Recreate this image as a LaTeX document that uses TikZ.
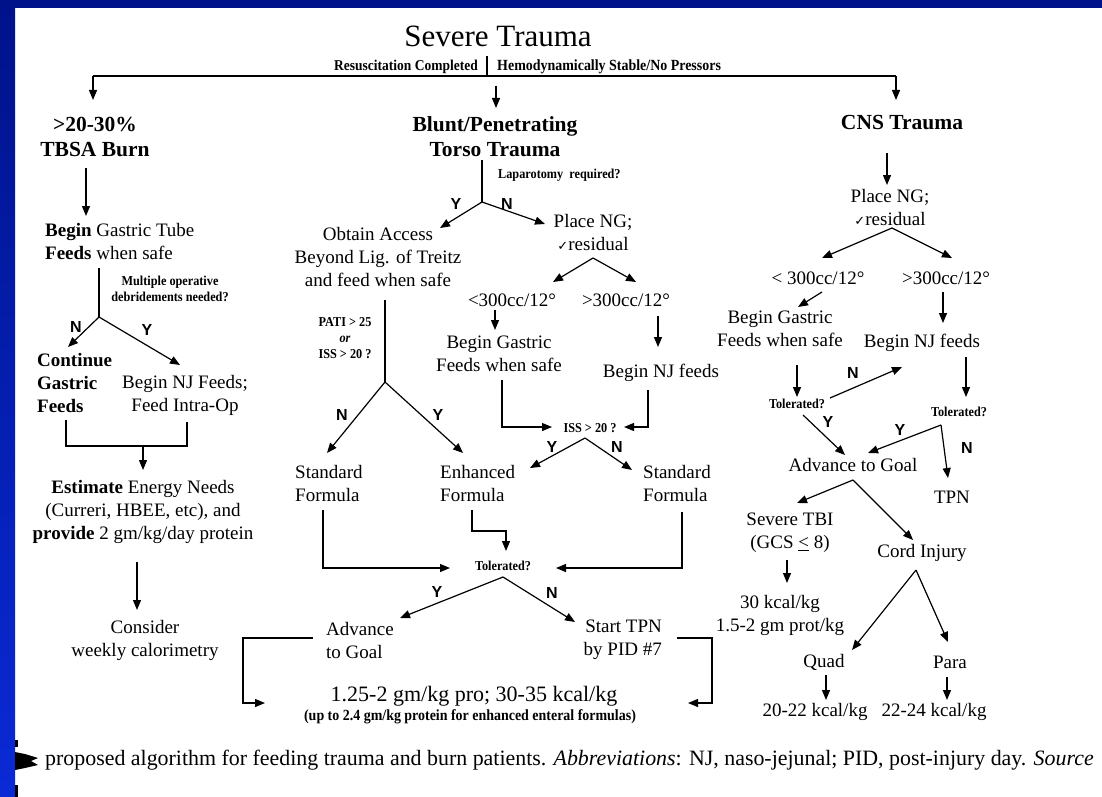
\documentclass[tikz,border=0pt]{standalone}
\usepackage{fontspec}
\setmainfont{Liberation Serif}
\newfontfamily\condf[FakeStretch=0.9]{Liberation Serif}
\newfontfamily\ynf{Liberation Sans}
\newfontfamily\symf{DejaVu Sans}
\usetikzlibrary{arrows.meta}
\definecolor{navy}{RGB}{0,18,138}
\definecolor{bblue}{RGB}{10,42,214}
\newcommand{\chk}{{\symf\fontsize{13}{13}\selectfont ✓}}
\begin{document}
\begin{tikzpicture}[x=1pt,y=-1pt,
  txt/.style={inner sep=0pt,align=center,font=\fontsize{19}{23}\selectfont},
  txl/.style={txt,align=left},
  hdr/.style={inner sep=0pt,align=center,font=\bfseries\fontsize{21.5}{25}\selectfont},
  sml/.style={inner sep=0pt,align=center,font=\condf\bfseries\fontsize{13.6}{16}\selectfont},
  yn/.style={inner sep=0pt,font=\ynf\bfseries\fontsize{16}{16}\selectfont},
  ln/.style={line width=1.2pt},
  arr/.style={ln,-{Triangle[length=10pt,width=8pt]}},
]
\useasboundingbox (0,0) rectangle (1102,797);
\fill[white] (0,0) rectangle (1102,797);
\fill[navy] (0,0) rectangle (1102,8);
\shade[top color=navy,bottom color=bblue] (0,0) rectangle (15,797);
\fill[black] (15,752) -- (25,754) -- (38,758) -- (31,761) -- (38,765) -- (25,768) -- (15,770) -- cycle;
\fill[black] (15,740) rectangle (18,747);
\fill[black] (15,785) rectangle (18,797);

% top
\node[inner sep=0pt,font=\fontsize{31}{31}\selectfont] (title) at (498,36) {Severe Trauma};
\node[sml,anchor=east,font=\condf\bfseries\fontsize{15}{17}\selectfont] (resus) at (478,67) {Resuscitation Completed};
\node[sml,anchor=west,font=\condf\bfseries\fontsize{15.5}{17}\selectfont] (hemo) at (497,67) {Hemodynamically Stable/No Pressors};
\coordinate (tkA) at (487,56); \coordinate (tkB) at (487,76);
\coordinate (hL) at (93,76); \coordinate (hR) at (896,76);
\draw[ln] (tkA) -- (tkB);
\draw[ln] (hL) -- (hR);
\coordinate (aL) at (93,100); \coordinate (aR) at (896,100);
\coordinate (cA) at (496,86); \coordinate (cB) at (496,108);
\draw[arr] (hL) -- (aL);
\draw[arr] (hR) -- (aR);
\draw[arr] (cA) -- (cB);

% heads
\node[hdr] (burn) at (95,137) {>20-30\%\\TBSA Burn};
\node[hdr] (torso) at (495,137) {Blunt/Penetrating\\Torso Trauma};
\node[hdr] (cns) at (902,123) {CNS Trauma};

% burn column
\coordinate (b1) at (86,168); \coordinate (b2) at (86,216);
\draw[arr] (b1) -- (b2);
\node[txl,anchor=west] (gtube) at (45,241) {\textbf{Begin} Gastric Tube\\\textbf{Feeds} when safe};
\coordinate (b3) at (99,268); \coordinate (bf) at (99,317);
\draw[ln] (b3) -- (bf);
\node[sml] (multi) at (170,289) {Multiple operative\\debridements needed?};
\coordinate (bN) at (68,347); \coordinate (bY) at (180,365);
\draw[arr] (bf) -- (bN);
\draw[arr] (bf) -- (bY);
\node[yn] (bNl) at (76,327) {N};
\node[yn] (bYl) at (147,330) {Y};
\node[txl,anchor=west] (cont) at (37,383) {\textbf{Continue}\\\textbf{Gastric}\\\textbf{Feeds}};
\node[txt] (njb) at (185,395) {Begin NJ Feeds;\\Feed Intra-Op};
\coordinate (k1) at (66,420); \coordinate (k2) at (66,446);
\coordinate (k3) at (187,446); \coordinate (k4) at (187,422);
\draw[ln] (k1) -- (k2) -- (k3) -- (k4);
\coordinate (k5) at (143,446); \coordinate (k6) at (143,470);
\draw[arr] (k5) -- (k6);
\node[txt] (est) at (143,512) {\textbf{Estimate} Energy Needs\\(Curreri, HBEE, etc), and\\\textbf{provide} 2 gm/kg/day protein};
\coordinate (e1) at (137,562); \coordinate (e2) at (137,610);
\draw[arr] (e1) -- (e2);
\node[txt] (cons) at (145,640) {Consider\\weekly calorimetry};

% torso column
\coordinate (t1) at (482,160); \coordinate (tf) at (482,202);
\draw[ln] (t1) -- (tf);
\node[sml,anchor=west] (lap) at (498,175) {Laparotomy\ \ required?};
\coordinate (tY) at (440,228); \coordinate (tN) at (545,224);
\draw[arr] (tf) -- (tY);
\draw[arr] (tf) -- (tN);
\node[yn] (tYl) at (456,204) {Y};
\node[yn] (tNl) at (507,204) {N};
\node[txt] (obt) at (378,257) {Obtain Access\\Beyond Lig. of Treitz\\and feed when safe};
\node[txt] (png) at (593,232) {Place NG;\\\chk residual};
\coordinate (pf) at (593,258); \coordinate (pL) at (553,282); \coordinate (pR) at (636,282);
\draw[arr] (pf) -- (pL);
\draw[arr] (pf) -- (pR);
\node[txt] (lt300) at (512,300) {<300cc/12°};
\node[txt] (gt300) at (626,300) {>300cc/12°};
\coordinate (l1) at (495,310); \coordinate (l2) at (495,330);
\draw[arr] (l1) -- (l2);
\node[txt] (bgf) at (499,354) {Begin Gastric\\Feeds when safe};
\coordinate (g1) at (658,316); \coordinate (g2) at (658,347);
\draw[arr] (g1) -- (g2);
\node[txt] (bnj) at (661,373) {Begin NJ\ feeds};
\coordinate (m1) at (502,380); \coordinate (m2) at (502,427); \coordinate (m3) at (552,427);
\draw[arr] (m1) -- (m2) -- (m3);
\node[sml] (iss) at (590,428) {ISS > 20 ?};
\coordinate (n1) at (648,390); \coordinate (n2) at (648,427); \coordinate (n3) at (624,427);
\draw[arr] (n1) -- (n2) -- (n3);
\coordinate (if) at (585,438); \coordinate (iY) at (530,468); \coordinate (iN) at (632,470);
\draw[arr] (if) -- (iY);
\draw[arr] (if) -- (iN);
\node[yn] (iYl) at (552,447) {Y};
\node[yn] (iNl) at (617,447) {N};
\node[sml] (pati) at (345,338) {PATI > 25\\\textit{or}\\ISS > 20 ?};
\coordinate (o1) at (385,300); \coordinate (of) at (385,382);
\draw[ln] (o1) -- (of);
\coordinate (oN) at (327,453); \coordinate (oY) at (463,453);
\draw[arr] (of) -- (oN);
\draw[arr] (of) -- (oY);
\node[yn] (oNl) at (342,415) {N};
\node[yn] (oYl) at (438,415) {Y};
\node[txl,anchor=west] (std1) at (295,483) {Standard\\Formula};
\node[txl,anchor=west] (enh) at (440,483) {Enhanced\\Formula};
\node[txl,anchor=west] (std2) at (643,483) {Standard\\Formula};
\coordinate (s1) at (323,510); \coordinate (s2) at (323,568); \coordinate (s3) at (450,568);
\draw[arr] (s1) -- (s2) -- (s3);
\node[sml] (tol) at (503,566) {Tolerated?};
\coordinate (en1) at (472,510); \coordinate (en2) at (472,531);
\coordinate (en3) at (506,531); \coordinate (en4) at (506,551);
\draw[arr] (en1) -- (en2) -- (en3) -- (en4);
\coordinate (r1) at (682,512); \coordinate (r2) at (682,568); \coordinate (r3) at (556,568);
\draw[arr] (r1) -- (r2) -- (r3);
\coordinate (tf2) at (503,577); \coordinate (tY2) at (400,618); \coordinate (tN2) at (575,622);
\draw[arr] (tf2) -- (tY2);
\draw[arr] (tf2) -- (tN2);
\node[yn] (tY2l) at (437,592) {Y};
\node[yn] (tN2l) at (552,593) {N};
\node[txl,anchor=west] (adv) at (326,640) {Advance\\to Goal};
\node[txt,align=right,anchor=east] (tpn) at (662,640) {Start TPN\\by PID \#7};
\coordinate (q1) at (313,638); \coordinate (q2) at (243,638);
\coordinate (q3) at (243,703); \coordinate (q4) at (265,703);
\draw[arr] (q1) -- (q2) -- (q3) -- (q4);
\coordinate (w1) at (677,638); \coordinate (w2) at (712,638);
\coordinate (w3) at (712,703); \coordinate (w4) at (688,703);
\draw[arr] (w1) -- (w2) -- (w3) -- (w4);
\node[inner sep=0pt,font=\fontsize{22}{24}\selectfont] (goal) at (474,696) {1.25-2 gm/kg pro; 30-35 kcal/kg};
\node[sml,font=\condf\bfseries\fontsize{15.5}{17}\selectfont] (upto) at (470,717) {(up to 2.4 gm/kg protein for enhanced enteral formulas)};

% CNS column
\coordinate (c1) at (887,153); \coordinate (c2) at (887,185);
\draw[arr] (c1) -- (c2);
\node[txt] (png2) at (890,207) {Place NG;\\\chk residual};
\coordinate (cf) at (892,228); \coordinate (cL) at (822,258); \coordinate (cR) at (952,258);
\draw[arr] (cf) -- (cL);
\draw[arr] (cf) -- (cR);
\node[txt] (lt2) at (818,278) {< 300cc/12°};
\node[txt] (gt2) at (946,278) {>300cc/12°};
\coordinate (d1) at (822,292); \coordinate (d2) at (798,307);
\draw[arr] (d1) -- (d2);
\coordinate (d3) at (943,292); \coordinate (d4) at (943,323);
\draw[arr] (d3) -- (d4);
\node[txt] (bgf2) at (780,329) {Begin Gastric\\Feeds when safe};
\node[txt] (bnj2) at (922,343) {Begin NJ\ feeds};
\coordinate (e3) at (797,365); \coordinate (e4) at (797,397);
\draw[arr] (e3) -- (e4);
\node[sml] (tolA) at (797,404) {Tolerated?};
\coordinate (x1) at (830,398); \coordinate (x2) at (902,367);
\draw[arr] (x1) -- (x2);
\node[yn] (xNl) at (853,373) {N};
\coordinate (x3) at (803,415); \coordinate (x4) at (845,455);
\draw[arr] (x3) -- (x4);
\node[yn] (xYl) at (828,422) {Y};
\coordinate (e5) at (966,357); \coordinate (e6) at (966,397);
\draw[arr] (e5) -- (e6);
\node[sml] (tolB) at (959,412) {Tolerated?};
\coordinate (yf) at (941,425); \coordinate (yY) at (868,453); \coordinate (yN) at (948,478);
\draw[arr] (yf) -- (yY);
\draw[arr] (yf) -- (yN);
\node[yn] (yYl) at (900,430) {Y};
\node[yn] (yNl) at (967,448) {N};
\node[txt] (adv2) at (853,465) {Advance to Goal};
\node[txt] (tpn2) at (952,497) {TPN};
\coordinate (af) at (853,480); \coordinate (aS) at (797,503); \coordinate (aC) at (913,540);
\draw[arr] (af) -- (aS);
\draw[arr] (af) -- (aC);
\node[txt] (tbi) at (790,533) {Severe TBI\\(GCS \underline{<} 8)};
\node[txt] (cord) at (922,553) {Cord Injury};
\coordinate (f1) at (787,560); \coordinate (f2) at (787,583);
\draw[arr] (f1) -- (f2);
\node[txt] (kc30) at (780,615) {30 kcal/kg\\1.5-2 gm prot/kg};
\coordinate (cf2) at (916,570); \coordinate (cQ) at (852,650); \coordinate (cP) at (948,642);
\draw[arr] (cf2) -- (cQ);
\draw[arr] (cf2) -- (cP);
\node[txt] (quad) at (824,662) {Quad};
\node[txt] (para) at (950,662) {Para};
\coordinate (h1) at (826,675); \coordinate (h2) at (826,700);
\coordinate (h3) at (947,677); \coordinate (h4) at (947,700);
\draw[arr] (h1) -- (h2);
\draw[arr] (h3) -- (h4);
\node[txt] (k2022) at (815,712) {20-22 kcal/kg};
\node[txt] (k2224) at (934,712) {22-24 kcal/kg};

% caption
\node[inner sep=0pt,anchor=west,font=\fontsize{21.9}{22}\selectfont] (cap) at (45,760) {proposed algorithm for feeding trauma and burn patients. \textit{Abbreviations}: NJ, naso-jejunal; PID, post-injury day. \textit{Source}};
\end{tikzpicture}
\end{document}
